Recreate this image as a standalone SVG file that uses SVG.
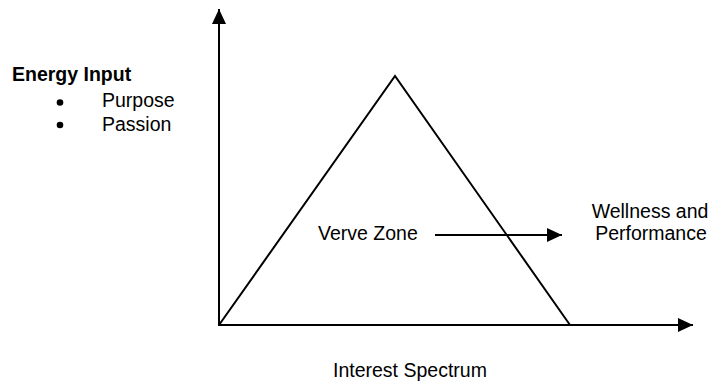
<svg xmlns="http://www.w3.org/2000/svg" width="712" height="381" viewBox="0 0 712 381">
<defs>
<style>
text{font-family:"Liberation Sans",Arial,sans-serif;font-size:19.5px;fill:#000}
.b{font-weight:bold}
.bul{fill:#000}
.ln{stroke:#000;stroke-width:2;fill:none}
</style>
<marker id="ah" viewBox="0 0 15 14" refX="15" refY="7" markerWidth="15" markerHeight="14" markerUnits="userSpaceOnUse" orient="auto">
<path d="M0,0 L15,7 L0,14 Z" fill="#000"/>
</marker>
</defs>
<rect width="712" height="381" fill="#fff"/>
<g id="connectors">
<line class="ln" x1="219" y1="326" x2="219" y2="9" marker-end="url(#ah)"/>
<line class="ln" x1="218" y1="325" x2="693" y2="325" marker-end="url(#ah)"/>
<line class="ln" x1="435" y1="235" x2="562" y2="235" marker-end="url(#ah)"/>
</g>
<g id="triangle">
<polyline class="ln" points="219,325 395,76 570,325"/>
</g>
<g id="energy-input">
<text class="b" x="12" y="81">Energy Input</text>
<circle class="bul" cx="60" cy="102.5" r="3.3"/>
<text x="102" y="107">Purpose</text>
<circle class="bul" cx="60" cy="125" r="3.3"/>
<text x="102" y="131">Passion</text>
</g>
<g id="verve-zone">
<text x="318" y="240">Verve Zone</text>
</g>
<g id="wellness">
<text x="650" y="218" text-anchor="middle">Wellness and</text>
<text x="651" y="240" text-anchor="middle">Performance</text>
</g>
<g id="interest-spectrum">
<text x="333" y="377">Interest Spectrum</text>
</g>
</svg>
